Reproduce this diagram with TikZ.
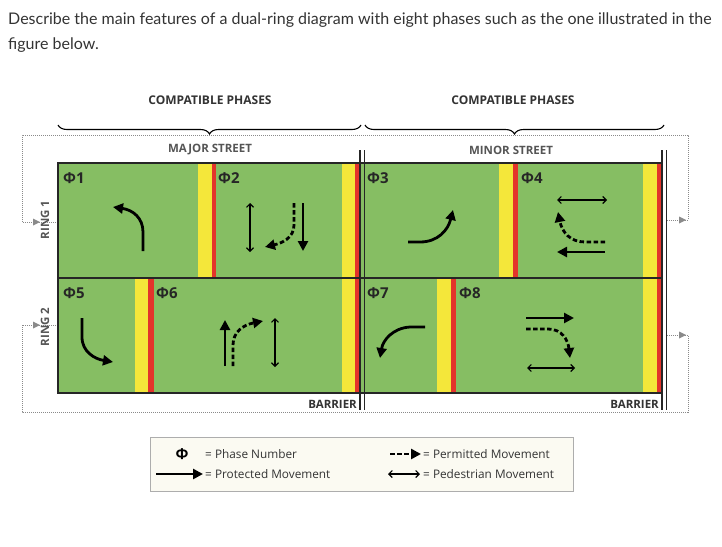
\documentclass[tikz,border=0pt]{standalone}
\usepackage{fontspec}
\setmainfont{Open Sans}
\newfontfamily\latofont{Lato}
\usetikzlibrary{arrows.meta,decorations.pathreplacing}
\definecolor{grn}{HTML}{86BE63}
\definecolor{yel}{HTML}{F4E73A}
\definecolor{redb}{HTML}{E3342B}
\definecolor{gry}{HTML}{8A8A8A}
\definecolor{txtg}{HTML}{555555}
\definecolor{cream}{HTML}{FBFAF2}
\tikzset{
  prot/.style={line width=2.8pt,-{Triangle[length=10pt,width=10pt]}},
  perm/.style={line width=2.8pt,dash pattern=on 4.5pt off 2.5pt,-{Triangle[length=10pt,width=10pt]}},
  ped/.style={line width=1.1pt,{Straight Barb[length=3.5pt,width=7pt]}-{Straight Barb[length=3.5pt,width=7pt]}},
  phl/.style={anchor=west,font=\bfseries\fontsize{15}{15}\selectfont,inner sep=0,text=black!85},
  lbl/.style={font=\bfseries\fontsize{11.5}{11.5}\selectfont,text=txtg,inner sep=0},
  hdr/.style={font=\bfseries\fontsize{12}{12}\selectfont,text=black!80,inner sep=0},
  dotl/.style={gry,densely dotted,line width=1pt},
  legt/.style={anchor=west,font=\fontsize{11.8}{11.8}\selectfont,text=black!80,inner sep=0},
}
\begin{document}
\begin{tikzpicture}[x=1pt,y=-1pt]
\useasboundingbox (0,0) rectangle (722,546);
% question text
\node[anchor=west,inner sep=0,font=\latofont\fontsize{16}{16}\selectfont,text=black!80] (q1) at (8,20) {Describe the main features of a dual-ring diagram with eight phases such as the one illustrated in the};
\node[anchor=west,inner sep=0,font=\latofont\fontsize{16}{16}\selectfont,text=black!80] (q2) at (8,45) {figure below.};
% compatible phases
\node[hdr] (cp1) at (210,100) {COMPATIBLE PHASES};
\node[hdr] (cp2) at (513,100) {COMPATIBLE PHASES};
\draw[line width=1.1pt,decorate,decoration={brace,amplitude=9pt,mirror}] (58,125) -- (361,125);
\draw[line width=1.1pt,decorate,decoration={brace,amplitude=9pt,mirror}] (365,125) -- (664,125);
% dotted loops
\draw[dotl] (58,222) -- (22,222) -- (22,135) -- (688,135) -- (688,220) -- (666,220);
\draw[dotl] (58,325) -- (22,325) -- (22,412) -- (688,412) -- (688,335) -- (666,335);
\fill[gry] (40,222) -- (33,218.5) -- (33,225.5) -- cycle;
\fill[gry] (40,325) -- (33,321.5) -- (33,328.5) -- cycle;
\fill[gry] (686,220) -- (679,216.5) -- (679,223.5) -- cycle;
\fill[gry] (686,335) -- (679,331.5) -- (679,338.5) -- cycle;
\node[lbl,rotate=90] (r1) at (45,220) {RING 1};
\node[lbl,rotate=90] (r2) at (45,327) {RING 2};
% street labels
\node[lbl,fill=white,inner xsep=4pt,inner ysep=2pt] (ms) at (210,150) {MAJOR STREET};
\node[lbl,fill=white,inner xsep=4pt,inner ysep=2pt] (mn) at (511,150) {MINOR STREET};
% green fields
\fill[grn] (58,163) rectangle (662,393);
% bars row 1
\fill[yel] (198,163) rectangle (212,278); \fill[redb] (212,163) rectangle (216,278);
\fill[yel] (342,163) rectangle (355,393); \fill[redb] (355,163) rectangle (359,393);
\fill[yel] (499,163) rectangle (513,278); \fill[redb] (513,163) rectangle (518,278);
\fill[yel] (643,163) rectangle (657,393); \fill[redb] (657,163) rectangle (662,393);
% bars row 2
\fill[yel] (135,278) rectangle (148,393); \fill[redb] (148,278) rectangle (154,393);
\fill[yel] (437,278) rectangle (451,393); \fill[redb] (451,278) rectangle (456,393);
% outlines
\draw[line width=1.6pt,black!85] (58,163) rectangle (662,393);
\draw[line width=1.6pt,black!85] (58,278) -- (662,278);
\draw[line width=1.3pt,black!85] (360,150) -- (360,410) (364.5,150) -- (364.5,410);
\draw[line width=1.3pt,black!85] (662,150) -- (662,410) (666.5,150) -- (666.5,410);
\node[lbl,anchor=east,text=black!80] (b1) at (357,404) {BARRIER};
\node[lbl,anchor=east,text=black!80] (b2) at (659,404) {BARRIER};
% phase labels
\node[phl] (p1) at (63,178) {Φ1};
\node[phl] (p2) at (218,178) {Φ2};
\node[phl] (p3) at (367,178) {Φ3};
\node[phl] (p4) at (521,178) {Φ4};
\node[phl] (p5) at (63,293) {Φ5};
\node[phl] (p6) at (156,293) {Φ6};
\node[phl] (p7) at (367,293) {Φ7};
\node[phl] (p8) at (459,293) {Φ8};
% movements
\draw[prot] (143,251) -- (143,232) .. controls (143,218) and (133,210) .. (113,207);
\draw[ped] (250,203) -- (250,252);
\draw[prot] (303,203) -- (303,251);
\draw[perm] (294,203) -- (294,225) .. controls (294,238) and (282,243) .. (265,247);
\draw[prot] (82,318) -- (82,337) .. controls (82,352) and (95,359) .. (113,362);
\draw[prot] (225,366) -- (225,320);
\draw[perm] (233,366) -- (233,345) .. controls (233,332) and (243,325) .. (263,321);
\draw[ped] (275,318) -- (275,367);
\draw[prot] (408,242) -- (420,242) .. controls (438,242) and (448,230) .. (453,210);
\draw[ped] (557,200) -- (607,200);
\draw[prot] (605,252) -- (557,252);
\draw[perm] (605,242) -- (585,242) .. controls (570,242) and (562,232) .. (558,212);
\draw[prot] (425,327) -- (410,327) .. controls (393,328) and (383,340) .. (380,358);
\draw[prot] (526,318) -- (574,318);
\draw[perm] (526,329) -- (548,329) .. controls (562,329) and (568,340) .. (570,358);
\draw[ped] (527,368) -- (575,368);
% legend
\draw[gry!70,fill=cream,line width=0.8pt] (150,437) rectangle (573,491);
\node[font=\bfseries\fontsize{15}{15}\selectfont,inner sep=0] (lphi) at (182,454) {Φ};
\node[legt] (l1) at (205,454) {= Phase Number};
\node[legt] (l2) at (205,474) {= Protected Movement};
\node[legt] (l3) at (423,454) {= Permitted Movement};
\node[legt] (l4) at (423,474) {= Pedestrian Movement};
\coordinate (a1s) at (156,474); \coordinate (a1e) at (203,474);
\draw[prot] (a1s) -- (a1e);
\coordinate (a2s) at (390,454); \coordinate (a2e) at (421,454);
\draw[perm] (a2s) -- (a2e);
\coordinate (a3s) at (388,474); \coordinate (a3e) at (420,474);
\draw[ped] (a3s) -- (a3e);
\end{tikzpicture}
\end{document}
